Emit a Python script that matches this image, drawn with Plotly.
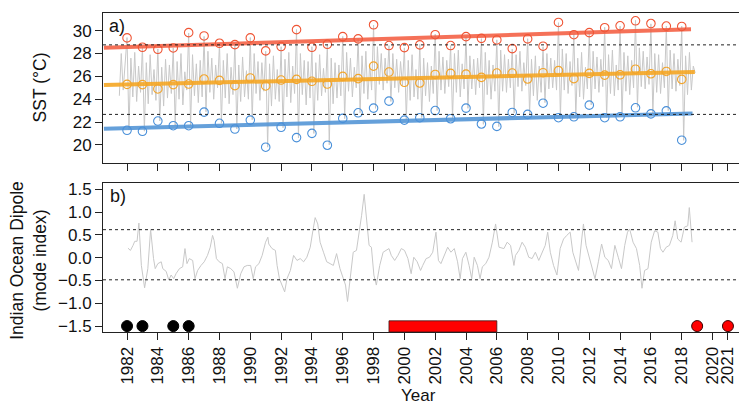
import plotly.graph_objects as go

# ---------------- data ----------------
years = list(range(1982, 2019))
sst_max = [29.37, 28.55, 28.37, 28.49, 29.83, 29.54, 28.90, 28.78, 29.37, 28.23,
           28.61, 30.09, 28.55, 28.81, 29.48, 29.28, 30.52, 28.70, 28.52, 28.76,
           29.65, 28.70, 29.48, 29.33, 29.19, 28.43, 29.28, 28.64, 30.72, 29.65,
           29.83, 30.26, 30.43, 30.87, 30.63, 30.41, 30.37]
sst_mean = [25.30, 25.28, 24.90, 25.28, 25.33, 25.77, 25.65, 25.19, 25.86, 25.16,
            25.68, 25.74, 25.57, 25.33, 26.00, 25.80, 26.90, 26.38, 25.48, 25.42,
            26.17, 26.26, 26.20, 25.91, 26.29, 26.29, 25.77, 26.32, 26.50, 25.80,
            26.26, 26.11, 26.14, 26.63, 26.23, 26.43, 25.74]
sst_min = [21.28, 21.19, 22.09, 21.68, 21.68, 22.87, 21.89, 21.39, 22.17, 19.80,
           21.54, 20.64, 21.01, 19.97, 22.32, 22.81, 23.22, 23.83, 22.17, 22.38,
           23.01, 22.29, 23.22, 21.83, 21.62, 22.84, 22.67, 23.65, 22.38, 22.46,
           23.48, 22.38, 22.46, 23.25, 22.72, 22.98, 20.41]

# sub-annual SST (8 samples per year, starting mid-1981)
sst_start = 1981.5
sst_per_year = 8
sst_series = [
    24.3, 28.0, 24.8, 27.2,                           # 1981 (second half)
    29.4, 21.3, 27.6, 24.2, 28.1, 23.8, 26.9, 24.6,   # 1982
    28.6, 21.2, 27.2, 23.6, 27.9, 24.4, 26.6, 23.9,   # 1983
    28.4, 22.1, 26.8, 23.4, 27.5, 24.1, 27.0, 24.5,   # 1984
    28.5, 21.7, 27.3, 24.0, 28.0, 23.5, 26.4, 24.8,   # 1985
    29.8, 21.7, 27.9, 24.3, 27.1, 23.7, 27.4, 24.2,   # 1986
    29.5, 22.9, 28.2, 24.6, 27.6, 24.0, 27.0, 25.0,   # 1987
    28.9, 21.9, 27.4, 24.1, 28.0, 23.6, 26.8, 24.4,   # 1988
    28.8, 21.4, 27.0, 23.8, 27.7, 24.2, 26.5, 24.0,   # 1989
    29.4, 22.2, 28.0, 24.5, 27.3, 23.9, 27.2, 24.7,   # 1990
    28.2, 19.8, 27.1, 23.4, 27.8, 24.0, 26.6, 23.8,   # 1991
    28.6, 21.5, 27.5, 24.2, 28.1, 23.7, 26.9, 24.5,   # 1992
    30.1, 20.6, 28.0, 24.4, 27.4, 23.5, 27.3, 24.1,   # 1993
    28.6, 21.0, 27.2, 23.9, 27.9, 24.3, 26.7, 24.6,   # 1994
    28.8, 20.0, 27.6, 23.6, 27.2, 24.1, 27.0, 24.3,   # 1995
    29.5, 22.3, 28.1, 24.7, 27.6, 24.2, 26.8, 25.0,   # 1996
    29.3, 22.8, 27.8, 24.5, 28.2, 24.0, 27.1, 24.8,   # 1997
    30.5, 23.2, 28.6, 25.3, 28.0, 24.8, 27.6, 25.4,   # 1998
    28.7, 23.8, 28.0, 25.0, 27.5, 24.6, 27.3, 25.2,   # 1999
    28.5, 22.2, 27.4, 23.9, 27.9, 24.2, 26.6, 24.0,   # 2000
    28.8, 22.4, 27.6, 24.3, 27.2, 23.8, 26.9, 24.5,   # 2001
    29.7, 23.0, 28.2, 24.8, 27.7, 24.5, 27.4, 25.1,   # 2002
    28.7, 22.3, 28.0, 24.6, 28.3, 24.2, 27.1, 24.9,   # 2003
    29.5, 23.2, 27.8, 24.9, 27.5, 24.4, 27.6, 25.0,   # 2004
    29.3, 21.8, 28.1, 24.4, 27.4, 24.0, 27.0, 24.7,   # 2005
    29.2, 21.6, 28.3, 24.7, 27.9, 24.6, 27.5, 25.0,   # 2006
    28.4, 22.8, 27.9, 25.1, 28.2, 24.7, 27.2, 25.2,   # 2007
    29.3, 22.7, 27.5, 24.3, 27.8, 23.9, 26.9, 24.6,   # 2008
    28.6, 23.7, 28.0, 24.9, 27.6, 25.0, 27.4, 24.8,   # 2009
    30.7, 22.4, 28.4, 24.8, 28.0, 24.5, 27.3, 25.2,   # 2010
    29.7, 22.5, 27.6, 24.2, 28.1, 24.0, 26.8, 24.9,   # 2011
    29.8, 23.5, 28.2, 24.9, 27.7, 24.6, 27.5, 25.1,   # 2012
    30.3, 22.4, 27.9, 24.5, 28.3, 24.3, 27.0, 24.8,   # 2013
    30.4, 22.5, 28.1, 24.7, 27.8, 24.4, 27.4, 25.0,   # 2014
    30.9, 23.3, 28.5, 25.1, 28.2, 24.9, 27.7, 25.3,   # 2015
    30.6, 22.7, 28.0, 24.6, 27.9, 24.5, 27.2, 25.0,   # 2016
    30.4, 23.0, 28.3, 24.9, 28.0, 24.7, 27.5, 25.2,   # 2017
    30.4, 20.4, 27.8, 24.4, 28.1, 24.8, 26.9, 26.3,   # 2018
]
sst_time = [sst_start + i / sst_per_year for i in range(len(sst_series))]

# linear trends (start / end)
trend_max_x = [1980.5, 2018.6]
trend_max_y = [28.50, 30.12]
trend_mean_x = [1980.5, 2018.85]
trend_mean_y = [25.25, 26.38]
trend_min_x = [1980.5, 2018.7]
trend_min_y = [21.42, 22.76]

sst_thresholds = [28.76, 22.67]
iod_thresholds = [0.615, -0.485]

# Indian Ocean Dipole mode index
iod_time = [1982.06, 1982.22, 1982.39, 1982.50, 1982.65, 1982.77, 1982.93, 1983.14, 1983.35, 1983.53,
            1983.72, 1983.83, 1984.00, 1984.22, 1984.32, 1984.54, 1984.71, 1984.86, 1985.03, 1985.18,
            1985.40, 1985.61, 1985.76, 1985.89, 1986.04, 1986.26, 1986.41, 1986.58, 1986.80, 1987.01,
            1987.22, 1987.40, 1987.55, 1987.65, 1987.80, 1987.98, 1988.19, 1988.36, 1988.51, 1988.73,
            1988.94, 1989.16, 1989.38, 1989.59, 1989.80, 1990.02, 1990.19, 1990.34, 1990.56, 1990.77,
            1990.99, 1991.14, 1991.20, 1991.41, 1991.63, 1991.74, 1991.89, 1992.06, 1992.23, 1992.38,
            1992.60, 1992.81, 1993.03, 1993.24, 1993.46, 1993.67, 1993.89, 1994.06, 1994.21, 1994.38,
            1994.53, 1994.75, 1994.96, 1995.18, 1995.39, 1995.60, 1995.82, 1996.04, 1996.18, 1996.31,
            1996.47, 1996.68, 1996.89, 1997.07, 1997.22, 1997.39, 1997.54, 1997.71, 1997.86, 1998.02,
            1998.18, 1998.40, 1998.62, 1998.83, 1999.00, 1999.15, 1999.37, 1999.58, 1999.80, 2000.01,
            2000.23, 2000.44, 2000.61, 2000.83, 2001.05, 2001.19, 2001.41, 2001.63, 2001.84, 2002.05,
            2002.21, 2002.37, 2002.59, 2002.81, 2003.02, 2003.24, 2003.45, 2003.62, 2003.77, 2003.99,
            2004.20, 2004.37, 2004.53, 2004.74, 2004.91, 2005.06, 2005.28, 2005.49, 2005.71, 2005.92,
            2006.14, 2006.46, 2006.67, 2006.89, 2007.11, 2007.21, 2007.43, 2007.64, 2007.85, 2008.07,
            2008.29, 2008.50, 2008.72, 2008.93, 2009.14, 2009.30, 2009.47, 2009.68, 2009.90, 2010.11,
            2010.33, 2010.54, 2010.76, 2010.93, 2011.08, 2011.30, 2011.51, 2011.62, 2011.79, 2011.94,
            2012.15, 2012.37, 2012.59, 2012.80, 2013.01, 2013.23, 2013.44, 2013.66, 2013.88, 2014.09,
            2014.30, 2014.48, 2014.62, 2014.84, 2015.06, 2015.27, 2015.42, 2015.59, 2015.81, 2016.02,
            2016.24, 2016.45, 2016.62, 2016.78, 2016.99, 2017.20, 2017.42, 2017.57, 2017.74, 2017.96,
            2018.17, 2018.39, 2018.49, 2018.67]
iod_value = [0.21, 0.16, 0.27, 0.36, 0.36, 0.76, -0.17, -0.66, -0.24, 0.62,
             -0.02, -0.24, -0.13, -0.09, -0.24, -0.30, -0.49, -0.38, -0.46, -0.35,
             -0.24, -0.20, 0.20, -0.13, -0.02, -0.06, -0.46, -0.28, -0.17, -0.09,
             0.05, 0.23, 0.49, 0.38, -0.02, -0.09, -0.13, -0.46, -0.20, -0.24,
             -0.31, -0.67, -0.35, -0.20, -0.17, -0.17, -0.46, -0.20, -0.13, 0.05,
             0.34, 0.45, 0.30, 0.20, 0.16, -0.17, -0.46, -0.60, -0.75, -0.46,
             -0.28, 0.05, -0.06, -0.02, -0.09, 0.01, 0.23, 0.59, 0.88, 0.74,
             0.34, 0.12, -0.09, -0.13, -0.17, 0.09, -0.24, -0.46, -0.60, -0.96,
             -0.46, 0.12, 0.16, 0.56, 0.92, 1.39, 0.85, 0.27, 0.23, -0.38,
             -0.60, -0.17, 0.12, 0.16, 0.20, 0.05, -0.06, 0.05, 0.20, 0.16,
             -0.02, -0.35, 0.01, -0.09, -0.28, -0.17, -0.02, 0.01, 0.12, 0.56,
             -0.06, -0.13, 0.05, 0.23, 0.12, 0.20, -0.09, -0.46, -0.02, 0.12,
             -0.17, -0.46, 0.01, -0.17, -0.46, -0.20, -0.13, 0.01, 0.34, 0.74,
             0.23, 0.20, 0.34, 0.27, -0.17, 0.05, 0.16, 0.34, 0.23, 0.01,
             -0.02, 0.12, -0.06, 0.09, 0.27, 0.56, 0.12, -0.17, -0.38, 0.20,
             0.41, 0.49, 0.56, 0.12, -0.06, -0.28, 0.41, 0.74, 0.27, 0.09,
             -0.17, -0.46, -0.09, 0.30, 0.01, -0.06, -0.24, 0.27, 0.01, -0.24,
             0.27, 0.56, 0.63, 0.34, 0.20, -0.17, -0.67, -0.28, -0.24, 0.34,
             0.59, 0.56, 0.20, 0.12, 0.23, 0.27, 0.49, 0.81, 0.41, 0.34,
             0.67, 0.70, 1.10, 0.34]

event_level = -1.5
black_events = [1982, 1983, 1985, 1986]
red_events = [2019, 2021]
red_period = [1999, 2006]
red_period_top = -1.385

xticks = [1982, 1984, 1986, 1988, 1990, 1992, 1994, 1996, 1998, 2000, 2002, 2004,
          2006, 2008, 2010, 2012, 2014, 2016, 2018, 2020, 2021]
sst_ticks = [20, 22, 24, 26, 28, 30]
iod_ticks = [-1.5, -1.0, -0.5, 0.0, 0.5, 1.0, 1.5]

x_range = [1980.44, 2022.56]
sst_range = [18.45, 31.55]
iod_range = [-1.63, 1.63]

# ---------------- styling ----------------
FONT = "Liberation Sans, Arial, Helvetica, sans-serif"
AXC = "#222222"
GRAY = "#c8c8c8"
RED_L, ORA_L, BLU_L = "rgba(244,98,70,0.9)", "rgba(245,166,35,0.9)", "rgba(84,150,214,0.9)"
RED_C, ORA_C, BLU_C = "#ef5535", "#f2a42a", "#4a90d9"
TICK_SIZE = 17
TITLE_SIZE = 17.5

fig = go.Figure()

# top panel
fig.add_trace(go.Scatter(x=sst_time, y=sst_series, mode="lines",
                         line=dict(color=GRAY, width=1), xaxis="x", yaxis="y"))
for tx, ty, c in [(trend_max_x, trend_max_y, RED_L),
                  (trend_mean_x, trend_mean_y, ORA_L),
                  (trend_min_x, trend_min_y, BLU_L)]:
    fig.add_trace(go.Scatter(x=tx, y=ty, mode="lines", line=dict(color=c, width=4),
                             xaxis="x", yaxis="y"))
for vals, c in [(sst_max, RED_C), (sst_mean, ORA_C), (sst_min, BLU_C)]:
    fig.add_trace(go.Scatter(x=years, y=vals, mode="markers",
                             marker=dict(symbol="circle-open", size=8.5, color=c,
                                         line=dict(width=1.1, color=c)),
                             xaxis="x", yaxis="y"))

# bottom panel
fig.add_trace(go.Scatter(x=iod_time, y=iod_value, mode="lines",
                         line=dict(color=GRAY, width=1), xaxis="x2", yaxis="y2"))
fig.add_trace(go.Scatter(
    x=[red_period[0], red_period[1], red_period[1], red_period[0], red_period[0]],
    y=[iod_range[0], iod_range[0], red_period_top, red_period_top, iod_range[0]],
    mode="lines", fill="toself", fillcolor="#ff0000",
    line=dict(color="#3a1a1a", width=0.8), xaxis="x2", yaxis="y2"))
fig.add_trace(go.Scatter(x=black_events, y=[event_level] * len(black_events), mode="markers",
                         marker=dict(size=11, color="#000000", line=dict(width=1, color="#000000")),
                         xaxis="x2", yaxis="y2"))
fig.add_trace(go.Scatter(x=red_events, y=[event_level] * len(red_events), mode="markers",
                         marker=dict(size=11, color="#ff0000", line=dict(width=1, color="#3a0000")),
                         xaxis="x2", yaxis="y2"))

shapes = []
for v in sst_thresholds:
    shapes.append(dict(type="line", xref="x domain", yref="y", x0=0, x1=1, y0=v, y1=v,
                       line=dict(color="#222222", width=1, dash="dot")))
for v in iod_thresholds:
    shapes.append(dict(type="line", xref="x2 domain", yref="y2", x0=0, x1=1, y0=v, y1=v,
                       line=dict(color="#222222", width=1, dash="dot")))

axis_common = dict(showline=True, mirror=True, linecolor=AXC, linewidth=1,
                   ticks="outside", ticklen=7, tickcolor=AXC, tickwidth=1,
                   showgrid=False, zeroline=False,
                   tickfont=dict(family=FONT, size=TICK_SIZE, color="#111111"))

W, H = 747, 405
ML, MR, MT, MB = 95, 2, 2, 81
PW = W - ML - MR
PH = H - MT - MB

def px_x(px):
    return (px - ML) / PW

def px_y(py):
    return (H - MB - py) / PH

fig.update_layout(
    width=W, height=H, showlegend=False,
    margin=dict(l=ML, r=MR, t=MT, b=MB),
    paper_bgcolor="white", plot_bgcolor="white",
    font=dict(family=FONT, size=16, color="#111111"),
    xaxis=dict(domain=[0, 1], range=x_range, tickvals=xticks, showticklabels=False,
               anchor="y", **axis_common),
    yaxis=dict(domain=[px_y(153), 1], range=sst_range, tickvals=sst_ticks,
               anchor="x", **axis_common),
    xaxis2=dict(domain=[0, 1], range=x_range, tickvals=xticks, tickangle=-90,
                anchor="y2", **axis_common),
    yaxis2=dict(domain=[0, px_y(174)], range=iod_range, tickvals=iod_ticks,
                tickformat=".1f", anchor="x2", **axis_common),
    shapes=shapes,
    annotations=[
        dict(text="a)", xref="x domain", yref="y domain", x=0.006, y=1.0,
             xanchor="left", yanchor="top", yshift=-1, showarrow=False,
             font=dict(family=FONT, size=18, color="#111111")),
        dict(text="b)", xref="x2 domain", yref="y2 domain", x=0.008, y=1.0,
             xanchor="left", yanchor="top", yshift=-1, showarrow=False,
             font=dict(family=FONT, size=18, color="#111111")),
        dict(text="SST (°C)", xref="paper", yref="paper", x=px_x(32), y=px_y(77),
             xanchor="center", yanchor="middle", textangle=-90, showarrow=False,
             font=dict(family=FONT, size=TITLE_SIZE, color="#111111")),
        dict(text="Indian Ocean Dipole<br>(mode index)", xref="paper", yref="paper",
             x=px_x(21), y=px_y(252), xanchor="center", yanchor="middle",
             textangle=-90, showarrow=False,
             font=dict(family=FONT, size=TITLE_SIZE, color="#111111")),
        dict(text="Year", xref="paper", yref="paper", x=px_x(411), y=px_y(399),
             xanchor="center", yanchor="bottom", borderpad=0, showarrow=False,
             font=dict(family=FONT, size=17, color="#111111")),
    ],
)

fig.write_html("out.html")
